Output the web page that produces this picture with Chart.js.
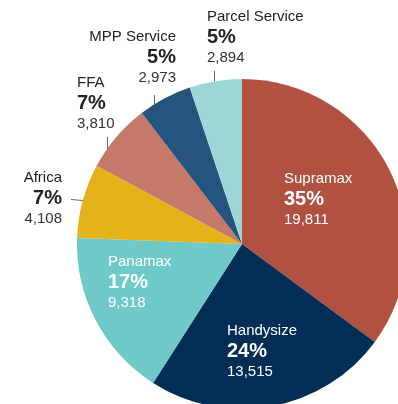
<!DOCTYPE html>
<html>
<head>
<meta charset="utf-8">
<script src="https://cdn.jsdelivr.net/npm/chart.js"></script>
<style>
  html, body { margin: 0; padding: 0; background: #fff; overflow: hidden; width: 398px; height: 404px; }
  #wrap { position: absolute; left: 0; top: 0; width: 420px; height: 420px; }
</style>
</head>
<body>
<div id="wrap"><canvas id="chart" width="420" height="420"></canvas></div>
<script>
// clockwise from 12 o'clock
const categories = ['Supramax', 'Handysize', 'Panamax', 'Africa', 'FFA', 'MPP Service', 'Parcel Service'];
const values = [19811, 13515, 9318, 4108, 3810, 2973, 2894];
const shareLabels = ['35%', '24%', '17%', '7%', '7%', '5%', '5%'];
const valueLabels = ['19,811', '13,515', '9,318', '4,108', '3,810', '2,973', '2,894'];
const colors = ['#b05142', '#022d55', '#6fc9c8', '#e3b319', '#c6796a', '#25557e', '#9dd7d8'];

// label placement, offsets from the pie centre (name baseline)
const layout = [
  { dx: 42,   dy: -61,  align: 'left',  inside: true },
  { dx: -15,  dy: 91,   align: 'left',  inside: true },
  { dx: -134, dy: 22,   align: 'left',  inside: true },
  { dx: -180, dy: -62,  align: 'right', leader: { horiz: true, from: -171, at: -44.5 } },
  { dx: -165, dy: -157, align: 'left',  leader: { from: -107, at: -135 } },
  { dx: -66,  dy: -203, align: 'right', leader: { from: -149, at: -88 } },
  { dx: -35,  dy: -223, align: 'left',  leader: { from: -173, at: -28 } }
];

const labelPlugin = {
  id: 'sliceLabels',
  afterDatasetsDraw(chart) {
    const ctx = chart.ctx;
    const arcs = chart.getDatasetMeta(0).data;
    ctx.save();
    arcs.forEach((arc, i) => {
      const cx = arc.x, cy = arc.y, r = arc.outerRadius;
      const L = layout[i];
      const x = cx + L.dx, y = cy + L.dy;
      const col = L.inside ? '#ffffff' : '#222222';
      ctx.textAlign = L.align;
      ctx.textBaseline = 'alphabetic';
      ctx.fillStyle = col;
      ctx.font = '15px "Liberation Sans", Arial, sans-serif';
      ctx.fillText(categories[i], x, y);
      ctx.font = 'bold 20px "Liberation Sans", Arial, sans-serif';
      ctx.fillText(shareLabels[i], x, y + 22);
      ctx.font = '15px "Liberation Sans", Arial, sans-serif';
      ctx.fillStyle = L.inside ? '#ffffff' : '#333333';
      ctx.fillText(valueLabels[i], x, y + 41);
      if (L.leader) {
        ctx.strokeStyle = '#666666';
        ctx.lineWidth = 1;
        ctx.beginPath();
        if (L.leader.horiz) {
          const yy = cy + L.leader.at;
          const xe = cx - Math.sqrt(r * r - L.leader.at * L.leader.at);
          ctx.moveTo(cx + L.leader.from, yy);
          ctx.lineTo(xe, yy + 1);
        } else {
          const xx = Math.round(cx + L.leader.at) + 0.5;
          const ye = cy - Math.sqrt(r * r - L.leader.at * L.leader.at);
          ctx.moveTo(xx, cy + L.leader.from);
          ctx.lineTo(xx, ye);
        }
        ctx.stroke();
      }
    });
    ctx.restore();
  }
};

new Chart(document.getElementById('chart'), {
  type: 'pie',
  data: {
    labels: categories,
    datasets: [{
      data: values,
      backgroundColor: colors,
      borderWidth: 0
    }]
  },
  options: {
    responsive: false,
    animation: false,
    layout: { padding: { left: 77, top: 79, right: 13, bottom: 11 } },
    plugins: {
      legend: { display: false },
      tooltip: { enabled: false }
    }
  },
  plugins: [labelPlugin]
});
</script>
</body>
</html>
